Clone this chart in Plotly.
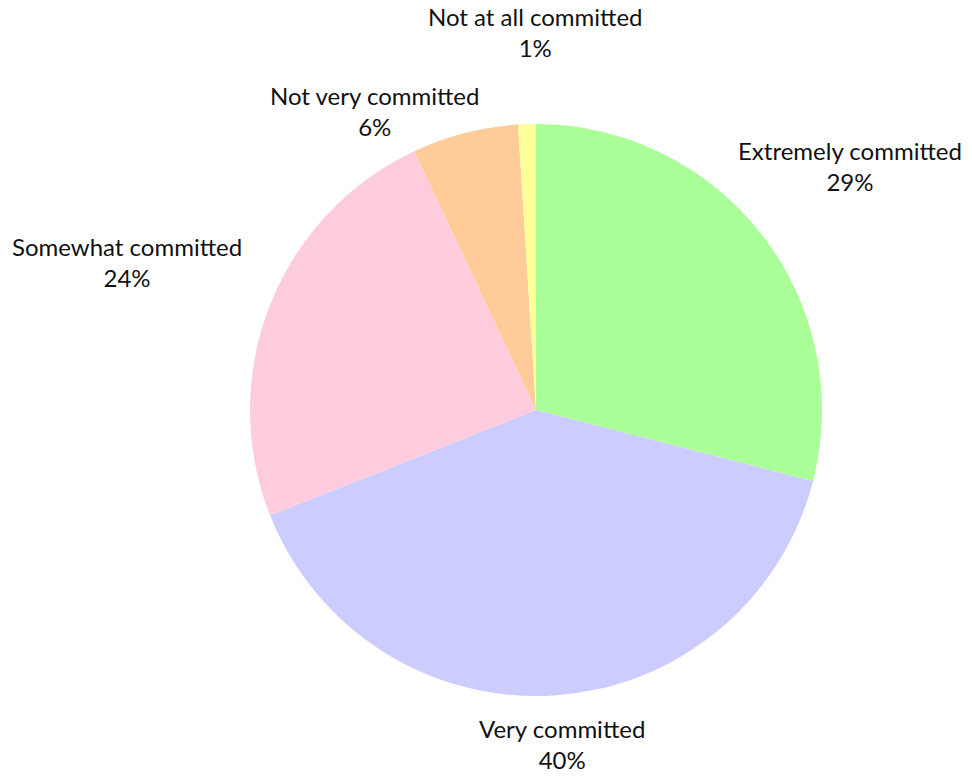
import math
import plotly.graph_objects as go

# Survey answers: how committed respondents are
categories = ["Extremely committed", "Very committed", "Somewhat committed",
              "Not very committed", "Not at all committed"]
shares = [29, 40, 24, 6, 1]
colors = ["#aaff99", "#ccccff", "#ffccdd", "#ffcc99", "#ffff99"]

W, H = 972, 779
CX, CY, R = 536, 410, 286          # pie centre and radius in pixels

# label placement: distance from centre (in radii) and angular nudge (deg)
label_dist = [1.39, 1.17, 1.52, 1.19, 1.32]
label_nudge = [0.0, -0.9, -1.7, -14.0, 1.8]

FONT = "Lato"

fig = go.Figure(go.Pie(
    labels=categories,
    values=shares,
    sort=False,
    direction="clockwise",
    rotation=0,
    marker=dict(colors=colors, line=dict(width=0)),
    textinfo="none",
    hoverinfo="label+percent",
    domain=dict(x=[(CX - R) / W, (CX + R) / W],
                y=[1 - (CY + R) / H, 1 - (CY - R) / H]),
    showlegend=False,
))

total = sum(shares)
cum = 0
annotations = []
for name, v, d, nudge in zip(categories, shares, label_dist, label_nudge):
    mid = (cum + v / 2) / total * 360 + nudge
    cum += v
    a = math.radians(mid)
    px = CX + d * R * math.sin(a)
    py = CY - d * R * math.cos(a)
    annotations.append(dict(
        x=px / W, y=1 - py / H, xref="paper", yref="paper",
        text=f"{name}<br>{round(v / total * 100)}%",
        showarrow=False, xanchor="center", yanchor="middle", align="center",
        font=dict(family=FONT, size=24, color="#111111"),
    ))

fig.update_layout(
    width=W, height=H,
    margin=dict(l=0, r=0, t=0, b=0),
    paper_bgcolor="white",
    plot_bgcolor="white",
    annotations=annotations,
)

fig.write_html("out.html")
